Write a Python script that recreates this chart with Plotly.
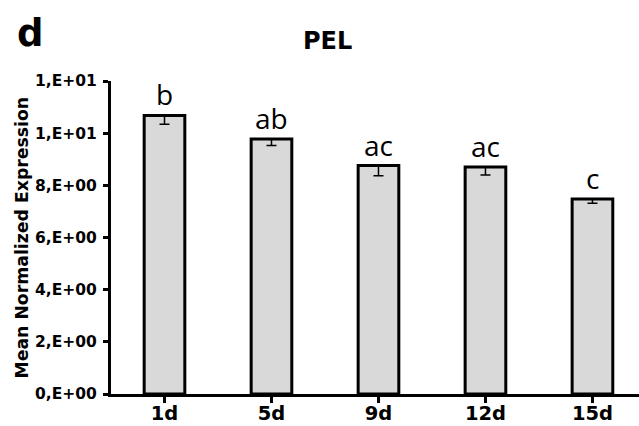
import plotly.graph_objects as go

categories = ["1d", "5d", "9d", "12d", "15d"]
values = [10.68, 9.78, 8.76, 8.70, 7.48]
errors = [0.34, 0.25, 0.39, 0.30, 0.17]
letters = ["b", "ab", "ac", "ac", "c"]
ytick_vals = [0, 2, 4, 6, 8, 10, 12]
ytick_text = ["0,E+00", "2,E+00", "4,E+00", "6,E+00", "8,E+00", "1,E+01", "1,E+01"]

W, H = 639, 426
ml, mr, mt, mb = 111, 0, 81, 32

fig = go.Figure()
fig.add_trace(go.Bar(
    x=list(range(len(categories))), y=values, width=0.38,
    marker=dict(color="#d9d9d9", line=dict(color="black", width=3)),
    error_y=dict(type="data", symmetric=False, array=[0]*len(values),
                 arrayminus=errors, color="black", thickness=1.5, width=5),
    showlegend=False, hoverinfo="skip",
))

for i, (v, t) in enumerate(zip(values, letters)):
    fig.add_annotation(x=i, y=v, text=t, showarrow=False, xref="x", yref="y",
                       yanchor="bottom", yshift=0,
                       font=dict(family="Open Sans", size=28, color="black"))

pw = W - ml - mr
ph = H - mt - mb
fig.add_annotation(text="Mean Normalized Expression", textangle=-90, showarrow=False,
                   xref="paper", yref="paper", x=(21 - ml) / pw, y=0.5,
                   xanchor="center", yanchor="middle",
                   font=dict(family="DejaVu Sans", size=17.3, color="black", weight="bold"))
fig.add_annotation(text="PEL", showarrow=False, xref="paper", yref="paper",
                   x=(327.5 - ml) / pw, y=1 + (mt - 41) / ph,
                   xanchor="center", yanchor="middle",
                   font=dict(family="DejaVu Sans", size=24, color="black", weight="bold"))
fig.add_annotation(text="d", showarrow=False, xref="paper", yref="paper",
                   x=(30 - ml) / pw, y=1 + (mt - 33) / ph,
                   xanchor="center", yanchor="middle",
                   font=dict(family="DejaVu Sans", size=37, color="black", weight="bold"))

fig.update_layout(
    width=W, height=H, margin=dict(l=ml, r=mr, t=mt, b=mb, autoexpand=False),
    paper_bgcolor="white", plot_bgcolor="white",
    xaxis=dict(range=[-0.5, 4.435], tickvals=list(range(len(categories))),
               ticktext=categories, tickson="boundaries", ticks="outside",
               ticklen=6, tickwidth=2.5, tickcolor="black",
               showline=True, linecolor="black", linewidth=3,
               showgrid=False, zeroline=False, automargin=False,
               ticklabelstandoff=-6,
               tickfont=dict(family="DejaVu Sans", size=19.5, color="black", weight="bold")),
    yaxis=dict(range=[0, 12], tickvals=ytick_vals, ticktext=ytick_text,
               ticks="outside", ticklen=5, tickwidth=2.5, tickcolor="black",
               showline=True, linecolor="black", linewidth=3,
               showgrid=False, zeroline=False, ticklabelstandoff=3, automargin=False,
               tickfont=dict(family="DejaVu Sans", size=15.5, color="black", weight="bold")),
)

fig.write_html("out.html", config={"displayModeBar": False},
               post_script="document.body.style.margin='0px';")
